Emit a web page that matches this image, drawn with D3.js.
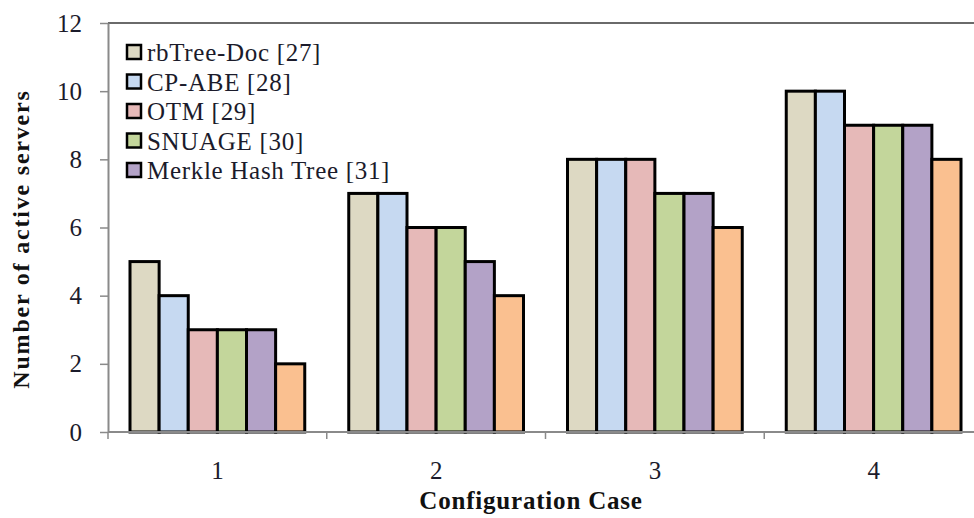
<!DOCTYPE html>
<html>
<head>
<meta charset="utf-8">
<script src="https://cdn.jsdelivr.net/npm/d3@7"></script>
<style>
  html, body { margin: 0; padding: 0; background: #fff; }
  svg { display: block; }
</style>
</head>
<body>
<svg id="chart" width="974" height="518"></svg>
<script>
// Configuration cases on the x axis
const categories = ["1", "2", "3", "4"];

// Scheme names (legend) and bar fills
const seriesNames = [
  "rbTree-Doc [27]",
  "CP-ABE [28]",
  "OTM [29]",
  "SNUAGE [30]",
  "Merkle Hash Tree [31]",
  ""
];
const seriesColors = ["#DDD9C3", "#C6D9F1", "#E6B9B8", "#C3D69B", "#B3A2C7", "#FAC090"];

// Number of active servers, one array per scheme, indexed by case
const rbTreeDoc  = [5, 7, 8, 10];
const cpAbe      = [4, 7, 8, 10];
const otm        = [3, 6, 8, 9];
const snuage     = [3, 6, 7, 9];
const merkleTree = [3, 5, 7, 9];
const sixthSeries = [2, 4, 6, 8];
const seriesValues = [rbTreeDoc, cpAbe, otm, snuage, merkleTree, sixthSeries];

const yTicks = [0, 2, 4, 6, 8, 10, 12];

const FONT = "'Liberation Serif', 'DejaVu Serif', serif";

const svg = d3.select("#chart");

const plot = { left: 108, right: 983, top: 23, bottom: 432 };

const x0 = d3.scaleBand()
  .domain(categories)
  .range([plot.left, plot.right])
  .padding(0);

const groupPad = 22;
const x1 = d3.scaleBand()
  .domain(d3.range(seriesValues.length))
  .range([groupPad, x0.bandwidth() - groupPad])
  .padding(0);

const y = d3.scaleLinear()
  .domain([0, 12])
  .range([plot.bottom, plot.top]);

// Top frame line
svg.append("line")
  .attr("x1", plot.left).attr("x2", plot.right)
  .attr("y1", plot.top).attr("y2", plot.top)
  .attr("stroke", "#6a6a6a").attr("stroke-width", 2);

// Bars
const groups = svg.append("g").selectAll("g")
  .data(categories)
  .join("g")
  .attr("transform", c => `translate(${x0(c)},0)`);

groups.selectAll("rect")
  .data((c, ci) => seriesValues.map((vals, si) => ({ si, v: vals[ci] })))
  .join("rect")
  .attr("x", d => x1(d.si))
  .attr("width", x1.bandwidth())
  .attr("y", d => y(d.v))
  .attr("height", d => y(0) - y(d.v))
  .attr("fill", d => seriesColors[d.si])
  .attr("stroke", "#000")
  .attr("stroke-width", 3);

// Y axis
const yAxis = svg.append("g")
  .attr("transform", `translate(${plot.left},0)`)
  .call(d3.axisLeft(y).tickValues(yTicks).tickSize(8).tickSizeOuter(0).tickPadding(18));
yAxis.attr("font-family", FONT).attr("font-size", 25);
yAxis.select(".domain").attr("stroke", "#8a8a8a").attr("stroke-width", 2);
yAxis.selectAll(".tick line").attr("stroke", "#8a8a8a").attr("stroke-width", 1.5);
yAxis.selectAll(".tick text")
  .attr("fill", "#1b1b2b")
  .style("font-family", FONT);

// X axis: baseline with separators between cases
const xAxis = svg.append("g")
  .attr("transform", `translate(0,${plot.bottom})`);
xAxis.append("line")
  .attr("x1", plot.left).attr("x2", plot.right)
  .attr("stroke", "#8a8a8a").attr("stroke-width", 2);
xAxis.selectAll("line.sep")
  .data(categories)
  .join("line")
  .attr("class", "sep")
  .attr("x1", c => x0(c)).attr("x2", c => x0(c))
  .attr("y1", 0).attr("y2", 7)
  .attr("stroke", "#8a8a8a").attr("stroke-width", 1.5);
xAxis.selectAll("text")
  .data(categories)
  .join("text")
  .attr("x", c => x0(c) + x0.bandwidth() / 2)
  .attr("y", 47)
  .attr("text-anchor", "middle")
  .attr("font-size", 25)
  .attr("fill", "#1b1b2b")
  .style("font-family", FONT)
  .text(c => c);

// Axis titles
svg.append("text")
  .attr("transform", `translate(29,239) rotate(-90)`)
  .attr("text-anchor", "middle")
  .attr("font-size", 24)
  .attr("font-weight", "bold")
  .attr("letter-spacing", 1.8)
  .attr("fill", "#111")
  .style("font-family", FONT)
  .text("Number of active servers");

svg.append("text")
  .attr("x", 531)
  .attr("y", 509)
  .attr("text-anchor", "middle")
  .attr("font-size", 25)
  .attr("font-weight", "bold")
  .attr("letter-spacing", 0.8)
  .attr("fill", "#111")
  .style("font-family", FONT)
  .text("Configuration Case");

// Legend (first five schemes)
const legend = svg.append("g")
  .selectAll("g")
  .data(seriesNames.slice(0, 5))
  .join("g")
  .attr("transform", (d, i) => `translate(127,${52 + i * 29.5})`);

legend.append("rect")
  .attr("x", 0).attr("y", -7)
  .attr("width", 14).attr("height", 14)
  .attr("fill", (d, i) => seriesColors[i])
  .attr("stroke", "#000")
  .attr("stroke-width", 2.5);

legend.append("text")
  .attr("x", 20)
  .attr("y", 9)
  .attr("font-size", 25)
  .attr("letter-spacing", 0.7)
  .attr("fill", "#1b1b2b")
  .style("font-family", FONT)
  .text(d => d);
</script>
</body>
</html>
